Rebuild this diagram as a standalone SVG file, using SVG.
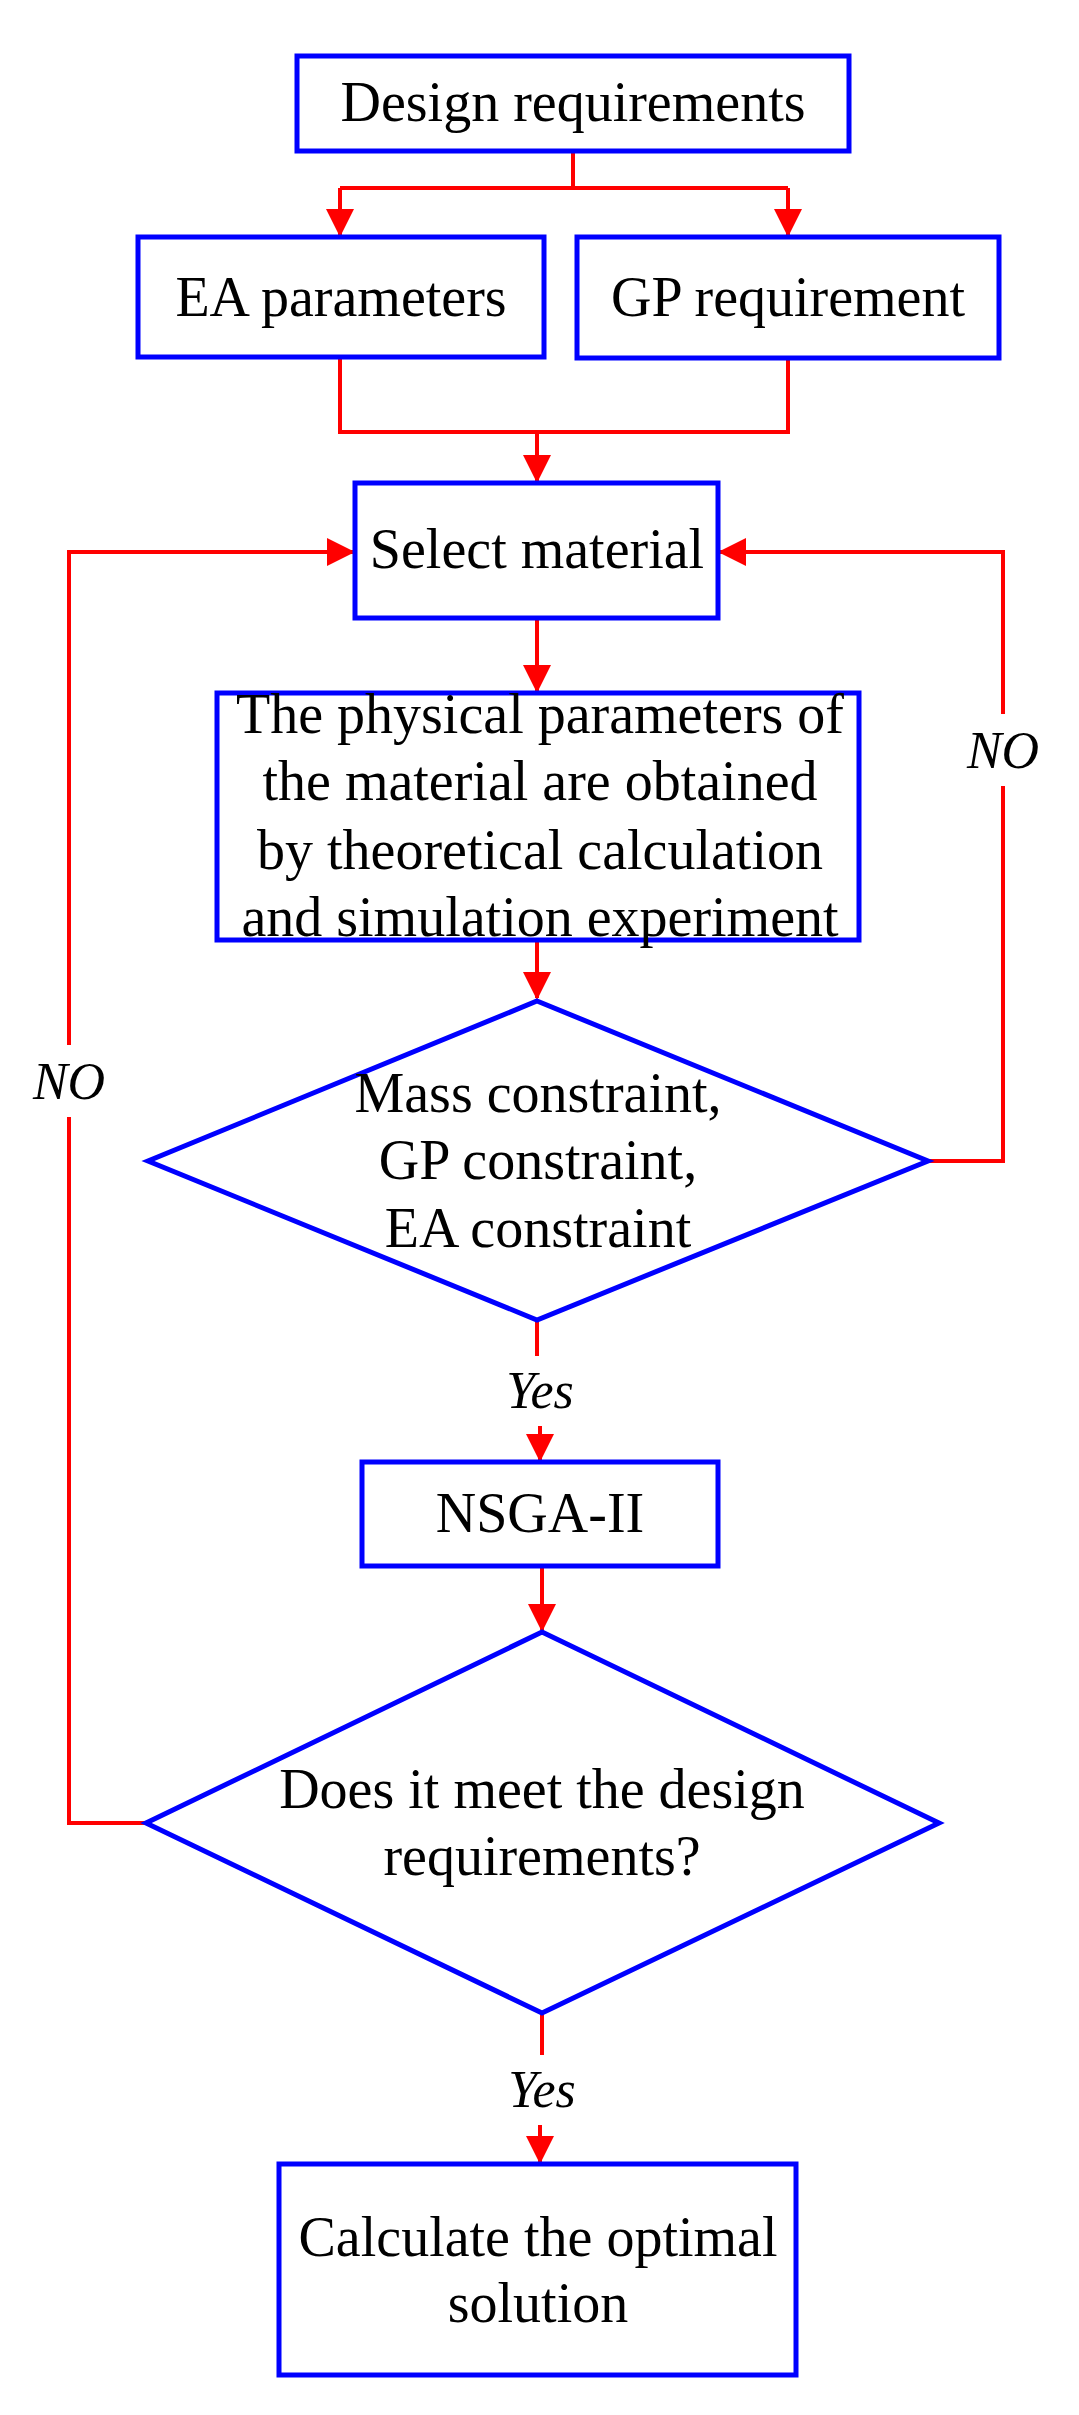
<svg xmlns="http://www.w3.org/2000/svg" width="1079" height="2415" viewBox="0 0 1079 2415">
<style>
.n{fill:#fff;stroke:#0000ff;stroke-width:5}
.t{font-family:"Liberation Serif",serif;font-size:56px;fill:#000;text-anchor:middle}
.i{font-family:"Liberation Serif",serif;font-size:52px;font-style:italic;fill:#000;text-anchor:middle}
.c{fill:none;stroke:#ff0000;stroke-width:4}
</style>
<defs>
<marker id="a" markerWidth="7" markerHeight="7" refX="6.5" refY="3.5" orient="auto" markerUnits="strokeWidth">
<path d="M0,0 L7,3.5 L0,7 Z" fill="#ff0000"/>
</marker>
</defs>
<rect width="1079" height="2415" fill="#fff"/>
<g id="connectors">
<path class="c" d="M573,151 V188 M340,188 H788"/>
<path class="c" d="M340,188 V235" marker-end="url(#a)"/>
<path class="c" d="M788,188 V235" marker-end="url(#a)"/>
<path class="c" d="M340,357 V432 H788 V358"/>
<path class="c" d="M537,432 V481" marker-end="url(#a)"/>
<path class="c" d="M537,618 V691" marker-end="url(#a)"/>
<path class="c" d="M537,940 V998" marker-end="url(#a)"/>
<path class="c" d="M928,1161 H1003 V786 M1003,714 V552 H720" marker-end="url(#a)"/>
<path class="c" d="M146,1823 H69 V1117 M69,1045 V552 H353" marker-end="url(#a)"/>
<path class="c" d="M537,1320 V1356"/>
<path class="c" d="M540,1426 V1460" marker-end="url(#a)"/>
<path class="c" d="M542,1566 V1630" marker-end="url(#a)"/>
<path class="c" d="M542,2013 V2055"/>
<path class="c" d="M540,2125 V2162" marker-end="url(#a)"/>
</g>
<g id="design"><rect class="n" x="297" y="56" width="552" height="95"/><text class="t" x="573" y="121">Design requirements</text></g>
<g id="ea"><rect class="n" x="138" y="237" width="406" height="120"/><text class="t" x="341" y="316">EA parameters</text></g>
<g id="gp"><rect class="n" x="577" y="237" width="422" height="121"/><text class="t" x="788" y="316">GP requirement</text></g>
<g id="select"><rect class="n" x="355" y="483" width="363" height="135"/><text class="t" x="537" y="568">Select material</text></g>
<g id="physical"><rect class="n" x="217" y="693" width="642" height="247"/>
<text class="t" x="540" y="733">The physical parameters of</text>
<text class="t" x="540" y="800">the material are obtained</text>
<text class="t" x="540" y="869">by theoretical calculation</text>
<text class="t" x="540" y="936">and simulation experiment</text></g>
<g id="dec1"><polygon class="n" points="537,1001 928,1161 537,1320 148,1161"/>
<text class="t" x="538" y="1112">Mass constraint,</text>
<text class="t" x="538" y="1179">GP constraint,</text>
<text class="t" x="538" y="1247">EA constraint</text></g>
<g id="nsga"><rect class="n" x="362" y="1462" width="356" height="104"/><text class="t" x="540" y="1532">NSGA-II</text></g>
<g id="dec2"><polygon class="n" points="542,1632 939,1823 542,2013 146,1823"/>
<text class="t" x="542" y="1808">Does it meet the design</text>
<text class="t" x="542" y="1875">requirements?</text></g>
<g id="final"><rect class="n" x="279" y="2164" width="517" height="211"/>
<text class="t" x="538" y="2256">Calculate the optimal</text>
<text class="t" x="538" y="2322">solution</text></g>
<g id="labels">
<text class="i" x="1003" y="768">NO</text>
<text class="i" x="69" y="1099">NO</text>
<text class="i" x="540" y="1408">Yes</text>
<text class="i" x="542" y="2107">Yes</text>
</g>
</svg>
